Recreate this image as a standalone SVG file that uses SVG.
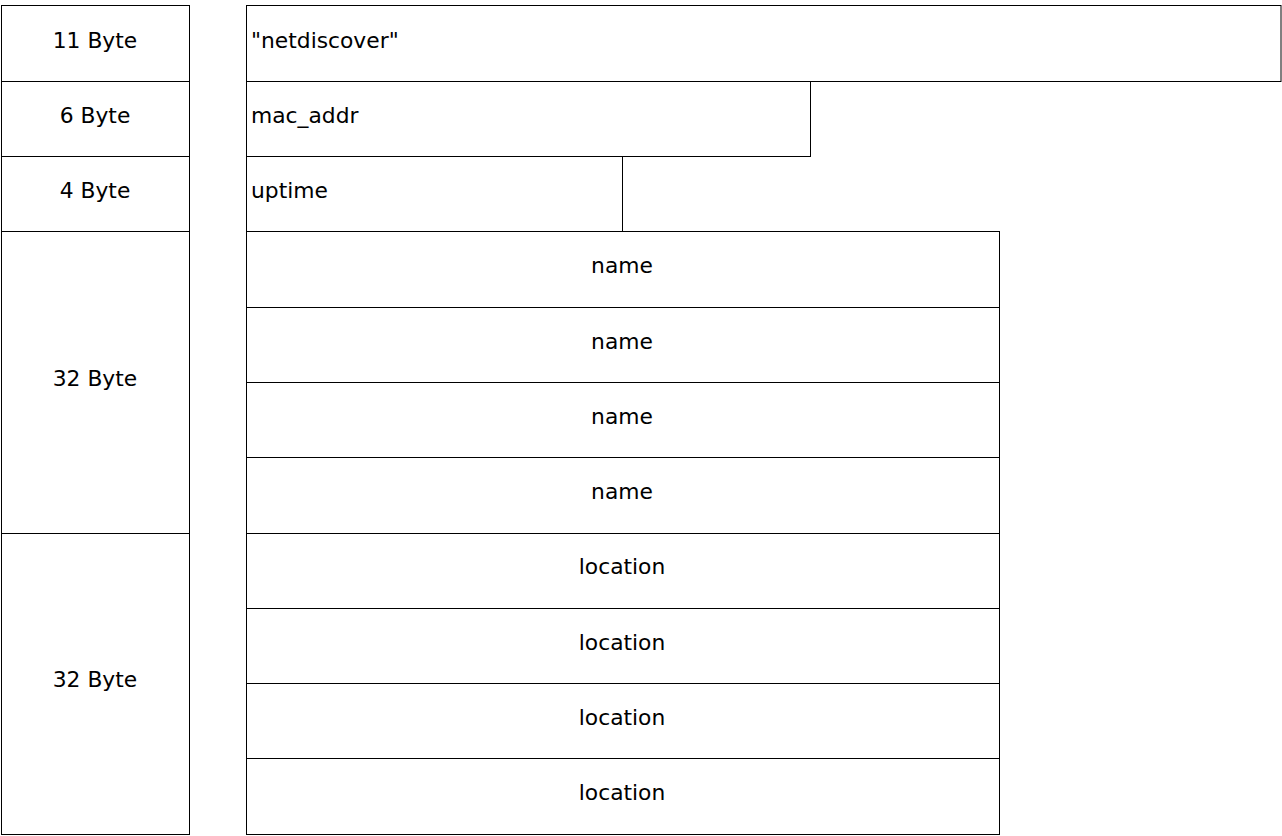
<svg xmlns="http://www.w3.org/2000/svg" width="1282" height="836" viewBox="0 0 1282 836">
<style>
rect{fill:#fff;stroke:#000;stroke-width:1}
text{font-family:"DejaVu Sans",sans-serif;font-size:21.8px;fill:#000}
.c{text-anchor:middle}
</style>
<rect x="0" y="0" width="1282" height="836" style="stroke:none"/>
<g id="sizes">
<g id="s11"><rect x="1.5" y="5.5" width="188" height="76"/><text class="c" x="95" y="47.5">11 Byte</text></g>
<g id="s6"><rect x="1.5" y="81.5" width="188" height="75"/><text class="c" x="95" y="122.5">6 Byte</text></g>
<g id="s4"><rect x="1.5" y="156.5" width="188" height="75"/><text class="c" x="95" y="198">4 Byte</text></g>
<g id="s32a"><rect x="1.5" y="231.5" width="188" height="302"/><text class="c" x="95" y="385.5">32 Byte</text></g>
<g id="s32b"><rect x="1.5" y="533.5" width="188" height="301"/><text class="c" x="95" y="686.5">32 Byte</text></g>
</g>
<g id="fields">
<g id="f_magic"><rect x="246.5" y="5.5" width="1034.5" height="76"/><text x="251" y="47.5">"netdiscover"</text></g>
<g id="f_mac"><rect x="246.5" y="81.5" width="564" height="75"/><text x="251" y="122.5">mac_addr</text></g>
<g id="f_uptime"><rect x="246.5" y="156.5" width="376" height="75"/><text x="251" y="198">uptime</text></g>
<g id="f_name1"><rect x="246.5" y="231.5" width="753" height="76"/><text class="c" x="622" y="273">name</text></g>
<g id="f_name2"><rect x="246.5" y="307.5" width="753" height="75"/><text class="c" x="622" y="348.5">name</text></g>
<g id="f_name3"><rect x="246.5" y="382.5" width="753" height="75"/><text class="c" x="622" y="424">name</text></g>
<g id="f_name4"><rect x="246.5" y="457.5" width="753" height="76"/><text class="c" x="622" y="499">name</text></g>
<g id="f_loc1"><rect x="246.5" y="533.5" width="753" height="75"/><text class="c" x="622" y="574">location</text></g>
<g id="f_loc2"><rect x="246.5" y="608.5" width="753" height="75"/><text class="c" x="622" y="649.5">location</text></g>
<g id="f_loc3"><rect x="246.5" y="683.5" width="753" height="75"/><text class="c" x="622" y="725">location</text></g>
<g id="f_loc4"><rect x="246.5" y="758.5" width="753" height="76"/><text class="c" x="622" y="800">location</text></g>
</g>
<g id="connectors"/>
</svg>
